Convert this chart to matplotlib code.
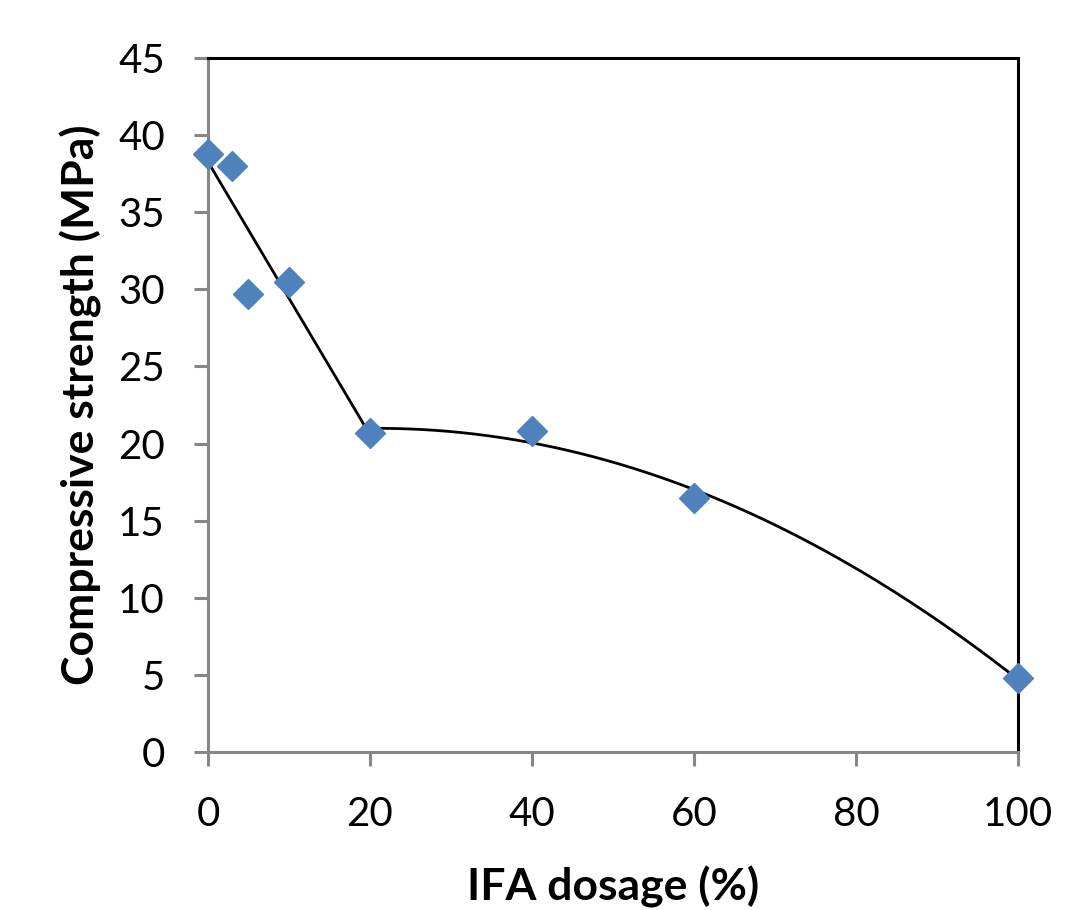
import numpy as np
import matplotlib
matplotlib.use("Agg")
import matplotlib.pyplot as plt

# IFA dosage (%) vs compressive strength (MPa)
dosage = [0, 3, 5, 10, 20, 40, 60, 100]
strength = [38.8, 38.0, 29.7, 30.5, 20.7, 20.8, 16.45, 4.8]

# trendlines: linear over 0-20 %, 2nd order polynomial over 20-100 %
lin_idx = slice(0, 5)
poly_idx = slice(4, 8)

x_ticks = [0, 20, 40, 60, 80, 100]
y_ticks = [0, 5, 10, 15, 20, 25, 30, 35, 40, 45]

plt.rcParams["font.family"] = ["Lato", "DejaVu Sans"]

fig = plt.figure(figsize=(10.76, 9.10), dpi=100)
ax = fig.add_axes([0.1933, 0.1736, 0.7528, 0.7627])

gray = "#868686"

xs = np.array(dosage, dtype=float)
ys = np.array(strength, dtype=float)

p1 = np.polyfit(xs[lin_idx], ys[lin_idx], 1)
xl = np.linspace(xs[lin_idx].min(), xs[lin_idx].max(), 50)
ax.plot(xl, np.polyval(p1, xl), color="black", lw=2.0, zorder=2)

p2 = np.polyfit(xs[poly_idx], ys[poly_idx], 2)
xp = np.linspace(xs[poly_idx].min(), xs[poly_idx].max(), 200)
ax.plot(xp, np.polyval(p2, xp), color="black", lw=2.0, zorder=2)

ax.plot(dosage, strength, linestyle="none", marker="D", ms=15.5,
        color="#4F81BD", zorder=3, clip_on=False)

ax.set_xlim(0, 100)
ax.set_ylim(0, 45)
ax.set_xticks(x_ticks)
ax.set_yticks(y_ticks)

for side in ["left", "bottom"]:
    ax.spines[side].set_color(gray)
    ax.spines[side].set_linewidth(2.2)
for side in ["top", "right"]:
    ax.spines[side].set_color("black")
    ax.spines[side].set_linewidth(2.2)

ax.tick_params(axis="both", direction="out", length=10, width=2.2,
               color=gray, labelsize=29)
ax.tick_params(axis="x", pad=22)
ax.tick_params(axis="y", pad=21)

ax.set_xlabel("IFA dosage (%)", fontsize=32, fontweight="bold", labelpad=23)
ax.set_ylabel("Compressive strength (MPa)", fontsize=32, fontweight="bold",
              labelpad=12)

fig.savefig("out.png", dpi=100)
